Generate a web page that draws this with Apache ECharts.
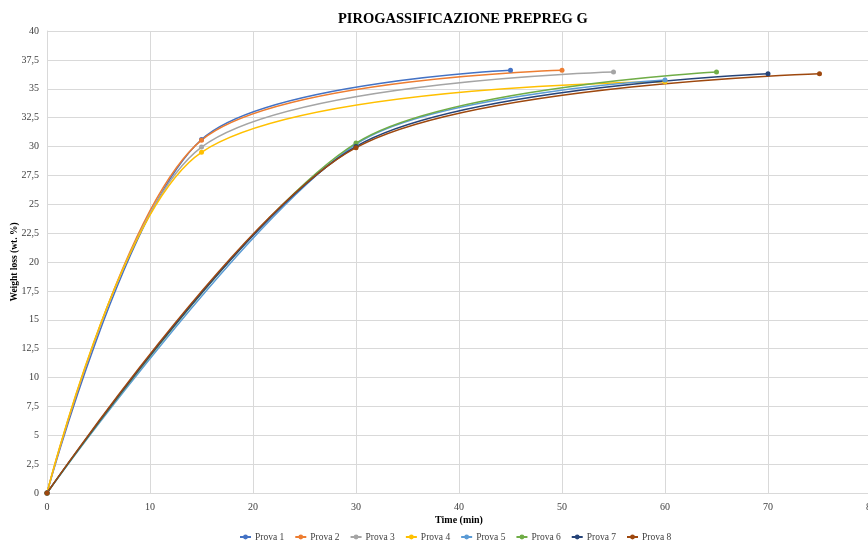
<!DOCTYPE html>
<html>
<head>
<meta charset="utf-8">
<script src="https://cdn.jsdelivr.net/npm/echarts@6/dist/echarts.min.js"></script>
<style>html,body{margin:0;padding:0;background:#fff}#c{width:868px;height:544px}</style>
</head>
<body>
<div id="c"></div>
<script>
const seriesNames = ['Prova 1','Prova 2','Prova 3','Prova 4','Prova 5','Prova 6','Prova 7','Prova 8'];
const prova1 = [[0,0],[15,30.6],[45,36.6]];
const prova2 = [[0,0],[15,30.55],[50,36.6]];
const prova3 = [[0,0],[15,29.95],[55,36.45]];
const prova4 = [[0,0],[15,29.5],[60,35.6]];
const prova5 = [[0,0],[30,30.2],[60,35.75]];
const prova6 = [[0,0],[30,30.3],[65,36.45]];
const prova7 = [[0,0],[30,30.0],[70,36.3]];
const prova8 = [[0,0],[30,29.9],[75,36.3]];
const seriesData = [prova1,prova2,prova3,prova4,prova5,prova6,prova7,prova8];
const colors = ['#4472C4','#ED7D31','#A5A5A5','#FFC000','#5B9BD5','#70AD47','#264478','#9E480E'];
const xTicks = {min:0, max:80, interval:10};
const yTicks = {min:0, max:40, interval:2.5};

const serif = '"Liberation Serif","DejaVu Serif",serif';
const chart = echarts.init(document.getElementById('c'), null, {renderer:'canvas'});
chart.setOption({
  animation:false,
  color: colors,
  title:{text:'PIROGASSIFICAZIONE PREPREG G', left:333, top:7,
    textStyle:{fontFamily:serif, fontWeight:'bold', fontSize:14.5, color:'#000'}},
  grid:{left:47, right:-3, top:31, bottom:51, containLabel:false, outerBoundsMode:'none'},
  legend:{top:527, left:234, itemWidth:11, itemHeight:6, itemGap:10,
    textStyle:{fontFamily:serif, fontSize:9.5, color:'#404040', padding:[0,0,0,-1]}},
  xAxis:{type:'value', min:xTicks.min, max:xTicks.max, interval:xTicks.interval,
    name:'Time (min)', nameLocation:'middle', nameGap:22, nameMoveOverlap:false,
    nameTextStyle:{fontFamily:serif, fontWeight:'bold', fontSize:10, color:'#000'},
    axisLine:{show:true, lineStyle:{color:'#d9d9d9'}}, axisTick:{show:false},
    axisLabel:{fontFamily:serif, fontSize:10, color:'#404040', margin:9},
    splitLine:{show:true, lineStyle:{color:'#d9d9d9', width:1}}},
  yAxis:{type:'value', min:yTicks.min, max:yTicks.max, interval:yTicks.interval,
    name:'Weight loss (wt. %)', nameLocation:'middle', nameGap:27, nameRotate:90, nameMoveOverlap:false,
    nameTextStyle:{fontFamily:serif, fontWeight:'bold', fontSize:9.5, color:'#000'},
    axisLine:{show:true, lineStyle:{color:'#d9d9d9'}}, axisTick:{show:false},
    axisLabel:{fontFamily:serif, fontSize:10, color:'#404040', margin:8,
      formatter:v => String(v).replace('.', ',')},
    splitLine:{show:true, lineStyle:{color:'#d9d9d9', width:1}}},
  series: seriesNames.map((n,i)=>({
    name:n, type:'line', data:seriesData[i], smooth:0.3,
    symbol:'circle', symbolSize:5, showAllSymbol:true,
    lineStyle:{width:1.5, color:colors[i]},
    itemStyle:{color:colors[i]}
  }))
});
</script>
</body>
</html>
